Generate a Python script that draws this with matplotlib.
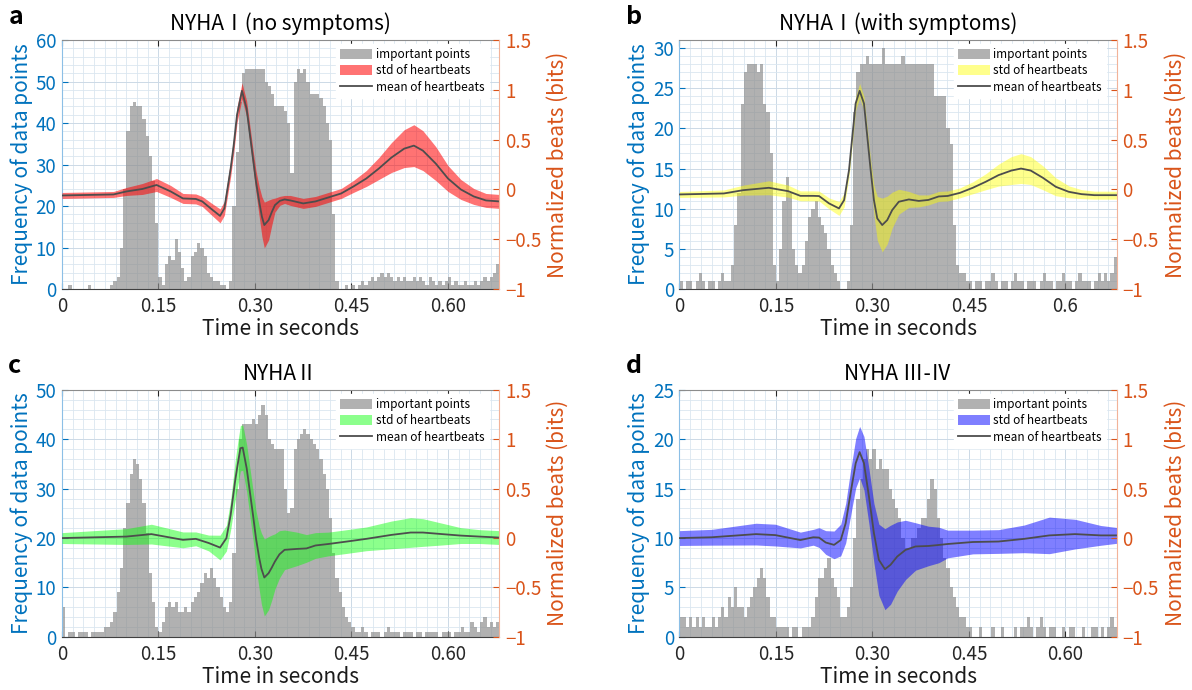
import numpy as np
import matplotlib
matplotlib.use('Agg')
import matplotlib.pyplot as plt
from matplotlib.patches import Patch
from matplotlib.lines import Line2D
from matplotlib.ticker import MultipleLocator

plt.rcParams['font.family'] = ['Noto Sans CJK JP', 'DejaVu Sans']
plt.rcParams['axes.unicode_minus'] = True

# ---------------- data ----------------
BIN = 0.005  # histogram bin width (s)

titles = ['NYHA\u2160(no symptoms)', 'NYHA\u2160(with symptoms)', 'NYHA\u2161', 'NYHA \u2162-\u2163']
letters = ['a', 'b', 'c', 'd']
x_ticks = [0, 0.15, 0.30, 0.45, 0.60]
x_labels_a = ['0', '0.15', '0.30', '0.45', '0.60']
x_labels_b = ['0', '0.15', '0.30', '0.45', '0.6']
left_max = [60, 31, 50, 25]
left_step = [10, 5, 10, 5]
left_minor = [2, 1, 2, 1]
right_ticks = [-1, -0.5, 0, 0.5, 1, 1.5]
right_labels = ['\u22121', '\u22120.5', '0', '0.5', '1', '1.5']

hist_a = [0, 0, 1, 0, 0, 0, 0, 0, 1, 0, 0, 0, 0, 0, 0, 1, 2,
          3, 10, 24, 38, 44, 45, 44, 44, 41, 37, 32, 26, 16, 3,
          1, 6, 8, 7, 12, 9, 5, 2, 3, 8, 9, 11, 10, 8, 4, 3, 2,
          2, 1, 1, 0, 2,
          20, 33, 45, 52, 53,
          53, 53, 53, 53, 53,
          50, 49, 47, 44, 44, 44, 43, 40, 28, 50, 53, 52, 53, 50, 47, 47, 47, 46, 44, 40, 36, 18, 2,
          0, 0, 1, 0, 1, 0, 1,
          2, 1, 2, 3, 2, 3, 4, 3, 4, 3, 2, 3, 2, 3, 2, 2, 3, 2, 3, 2, 1,
          3, 2, 1, 2, 1, 2, 3, 1, 2, 1, 1, 2, 1, 1, 2, 1, 2, 3, 2, 3, 4, 6]
hist_b = [1, 0, 1, 1, 0, 1, 2, 1, 0, 1, 1, 0, 1, 2, 1, 1,
          3, 8, 12, 23, 27, 28, 28, 28, 27, 28, 23, 22, 17, 3, 1,
          5, 11, 14, 12, 5, 3, 2, 3, 6, 9, 10, 11, 9, 8, 7, 5, 3, 2, 1, 0, 0, 1,
          8, 22, 27,
          28, 28, 29, 28, 28, 28, 28, 30, 28, 28, 28, 28, 28, 29, 28, 28, 28, 28, 28, 28, 28, 28,
          28, 24, 24, 24, 24, 20, 18, 8, 3, 2, 2, 1,
          1, 0, 1, 1, 0, 1, 1, 2, 1, 0, 1, 1, 0, 1, 2, 1, 1, 0, 1, 1, 1, 0, 1, 2,
          1, 1, 0, 1, 1, 2, 1, 1, 0, 1, 2, 1, 1, 1, 0, 1, 2, 1, 2, 1, 2, 4]
hist_c = [6, 0, 1, 1, 0, 1, 1, 1, 0, 1, 1, 1, 1, 2,
          2, 3, 5, 9, 14, 22, 27, 33, 36, 35, 32, 27, 21, 13, 7, 2, 1,
          3, 6, 7, 6, 7, 5, 5, 6, 5, 7, 8, 9, 11, 13, 12, 14, 12, 10, 8, 6, 5, 7,
          17, 30, 40, 43, 43, 43, 44, 43, 45, 47, 45, 40, 39, 38, 38, 38, 30, 25, 26,
          38, 40, 41, 42, 41, 40, 39, 38, 36, 33, 30, 24, 17, 12, 9, 6, 4, 3, 2,
          1, 1, 2, 1, 0, 1, 1, 1, 0, 1, 2, 1, 1, 1, 0, 1, 1, 1, 0, 1, 1, 0,
          1, 1, 1, 1, 0, 1, 1, 1, 0, 1, 1, 2, 1, 1, 3, 2, 1, 3, 4, 2, 3, 2, 3]
hist_d = [2, 2, 1, 2, 1, 2, 1, 2, 1, 1, 2, 1,
          2, 3, 2, 4, 3, 5, 3, 3, 2, 3, 4, 5, 6, 7, 6, 4, 2, 2, 1,
          1, 1, 1, 0, 1, 1, 0, 1, 1, 1, 2,
          4, 6, 6, 7, 8, 6, 5, 4, 2, 2, 3, 5,
          10, 14, 16, 18, 19, 18, 19, 17, 18, 17, 17, 15, 14, 13, 12, 10, 9, 9,
          10, 10, 11, 12, 12, 14, 16, 15, 12, 10, 8, 7, 5, 4, 3, 2, 2, 1,
          1, 0, 0, 1, 0, 0, 0, 1, 0, 0, 1, 0, 0, 0, 1, 0, 1, 1, 2, 1, 0, 1, 2,
          1, 0, 1, 1, 0, 0, 1, 0, 1, 1, 0, 0, 1, 0, 0, 1, 1, 0, 1, 0, 1, 2, 1, 3]

t_a = [0, 0.08, 0.10, 0.125, 0.147, 0.169, 0.188, 0.208, 0.218, 0.233,
       0.2457, 0.2524, 0.2622, 0.267, 0.2721, 0.2798, 0.287, 0.2969, 0.3015, 0.3066,
       0.3108, 0.3145, 0.3212, 0.3263, 0.331, 0.3387, 0.346, 0.355, 0.375, 0.394,
       0.414, 0.434, 0.453, 0.473, 0.4925, 0.512, 0.532, 0.547, 0.561, 0.581,
       0.600, 0.620, 0.640, 0.659, 0.68]
mean_a = [-0.06, -0.05, -0.02, 0.005, 0.045, -0.02, -0.09, -0.095, -0.12, -0.2,
          -0.265, -0.19, 0.21, 0.45, 0.75, 0.99, 0.81, 0.31, 0.08, -0.124,
          -0.274, -0.357, -0.307, -0.224, -0.157, -0.114, -0.10, -0.11, -0.14, -0.12,
          -0.08, -0.04, 0.03, 0.11, 0.21, 0.32, 0.41, 0.44, 0.39, 0.26,
          0.11, 0.0, -0.07, -0.11, -0.12]
std_a = [0.03, 0.03, 0.04, 0.055, 0.065, 0.06, 0.05, 0.05, 0.05, 0.06,
         0.07, 0.07, 0.08, 0.08, 0.08, 0.08, 0.08, 0.09, 0.11, 0.15,
         0.2, 0.23, 0.2, 0.13, 0.07, 0.045, 0.04, 0.05, 0.05, 0.05,
         0.05, 0.05, 0.06, 0.08, 0.11, 0.15, 0.19, 0.21, 0.2, 0.17,
         0.13, 0.1, 0.08, 0.07, 0.07]

t_b = [0, 0.069, 0.099, 0.139, 0.169, 0.188, 0.208, 0.217, 0.2326, 0.248,
       0.256, 0.2636, 0.2687, 0.2739, 0.2801, 0.2868, 0.292, 0.2972, 0.3023, 0.3075,
       0.3152, 0.323, 0.3307, 0.341, 0.3566, 0.372, 0.387, 0.403, 0.417, 0.436,
       0.456, 0.476, 0.496, 0.516, 0.531, 0.546, 0.565, 0.585, 0.605, 0.625,
       0.645, 0.68]
mean_b = [-0.05, -0.04, -0.007, 0.017, -0.017, -0.064, -0.064, -0.066, -0.14, -0.19,
          -0.106, 0.195, 0.53, 0.864, 0.99, 0.864, 0.53, 0.195, -0.106, -0.29,
          -0.357, -0.307, -0.207, -0.123, -0.1, -0.115, -0.105, -0.07, -0.065, -0.034,
          0.017, 0.077, 0.144, 0.19, 0.21, 0.19, 0.117, 0.027, -0.023, -0.047,
          -0.057, -0.057]
std_b = [0.03, 0.035, 0.05, 0.07, 0.06, 0.05, 0.05, 0.05, 0.055, 0.07,
         0.07, 0.07, 0.07, 0.07, 0.074, 0.07, 0.08, 0.1, 0.15, 0.22,
         0.27, 0.24, 0.18, 0.125, 0.08, 0.06, 0.05, 0.05, 0.05, 0.05,
         0.06, 0.08, 0.11, 0.14, 0.15, 0.14, 0.12, 0.09, 0.06, 0.045,
         0.04, 0.04]

t_c = [0, 0.100, 0.139, 0.188, 0.208, 0.228, 0.2457, 0.2556, 0.2622, 0.269,
       0.273, 0.2773, 0.2809, 0.2871, 0.2969, 0.3015, 0.3066, 0.310, 0.3145, 0.3212,
       0.326, 0.331, 0.338, 0.346, 0.365, 0.380, 0.394, 0.414, 0.443, 0.473,
       0.512, 0.542, 0.561, 0.591, 0.620, 0.649, 0.68]
mean_c = [0.0, 0.015, 0.04, -0.018, -0.008, -0.05, -0.096, -0.001, 0.235, 0.572,
          0.74, 0.909, 0.916, 0.706, 0.235, 0.0, -0.203, -0.31, -0.399, -0.355,
          -0.3, -0.237, -0.165, -0.119, -0.11, -0.105, -0.075, -0.06, -0.035, -0.008,
          0.032, 0.056, 0.056, 0.04, 0.025, 0.015, 0.005]
std_c = [0.055, 0.08, 0.1, 0.08, 0.07, 0.08, 0.125, 0.13, 0.15, 0.2,
         0.22, 0.23, 0.23, 0.24, 0.25, 0.28, 0.32, 0.36, 0.39, 0.37,
         0.33, 0.28, 0.24, 0.2, 0.17, 0.14, 0.13, 0.12, 0.12, 0.12,
         0.14, 0.15, 0.14, 0.11, 0.08, 0.07, 0.07]

t_d = [0, 0.05, 0.119, 0.149, 0.188, 0.208, 0.217, 0.2274, 0.2403, 0.2507,
       0.2584, 0.266, 0.274, 0.2801, 0.2868, 0.2946, 0.3023, 0.31, 0.3194, 0.3282,
       0.3385, 0.3514, 0.367, 0.387, 0.403, 0.417, 0.456, 0.496, 0.536, 0.575,
       0.615, 0.655, 0.68]
mean_d = [0.0, 0.008, 0.04, 0.03, -0.02, 0.008, 0.005, -0.045, -0.069, -0.02,
          0.15, 0.455, 0.758, 0.87, 0.758, 0.42, 0.05, -0.22, -0.315, -0.27,
          -0.187, -0.12, -0.085, -0.08, -0.07, -0.06, -0.04, -0.035, -0.008, 0.027,
          0.04, 0.027, 0.027]
std_d = [0.075, 0.08, 0.11, 0.11, 0.08, 0.08, 0.1, 0.12, 0.14, 0.16,
         0.2, 0.23, 0.25, 0.26, 0.27, 0.28, 0.3, 0.36, 0.41, 0.4,
         0.35, 0.3, 0.24, 0.2, 0.18, 0.14, 0.12, 0.12, 0.14, 0.185,
         0.15, 0.1, 0.08]

band_colors = [(1, 0, 0), (1, 1, 0), (0, 1, 0), (0, 0, 1)]
band_alpha = [0.55, 0.45, 0.45, 0.5]

# ---------------- style ----------------
BLUE = (0.0, 0.447, 0.741)
ORANGE = (0.85, 0.325, 0.098)
BAR_C = (0.55, 0.55, 0.55)
BAR_A = 0.68
LINE_C = (0.3, 0.3, 0.3)

positions = [[0.052, 0.581, 0.367, 0.361], [0.570, 0.581, 0.367, 0.361],
             [0.052, 0.077, 0.367, 0.358], [0.570, 0.077, 0.367, 0.358]]
letter_pos = [(0.007, 0.958), (0.525, 0.958), (0.007, 0.452), (0.525, 0.452)]

hists = [hist_a, hist_b, hist_c, hist_d]
ts = [t_a, t_b, t_c, t_d]
means = [mean_a, mean_b, mean_c, mean_d]
stds = [std_a, std_b, std_c, std_d]
xlabs = [x_labels_a, x_labels_b, x_labels_a, x_labels_a]

fig = plt.figure(figsize=(11.92, 6.9), dpi=100)

for k in range(4):
    ax = fig.add_axes(positions[k])
    h = np.array(hists[k], dtype=float)
    edges = np.arange(len(h)) * BIN
    ax.bar(edges, h, width=BIN, align='edge', color=BAR_C, alpha=BAR_A, linewidth=0, zorder=2)
    ax.set_xlim(0, 0.68)
    ax.set_ylim(0, left_max[k])
    ax.set_xticks(x_ticks)
    ax.set_xticklabels(xlabs[k])
    ax.set_yticks(np.arange(0, left_max[k] + 0.1, left_step[k]))
    ax.xaxis.set_minor_locator(MultipleLocator(0.15 / 9))
    ax.yaxis.set_minor_locator(MultipleLocator(left_minor[k]))
    ax.grid(which='major', color=(0.80, 0.85, 0.90), linewidth=0.7, zorder=0)
    ax.grid(which='minor', color=(0.86, 0.90, 0.94), linewidth=0.6, zorder=0)
    ax.set_axisbelow(True)
    ax.tick_params(which='minor', length=0)
    ax.tick_params(axis='x', which='major', direction='in', length=4, top=True,
                   labelsize=13.5, colors=(0.15, 0.15, 0.15), pad=5)
    ax.tick_params(axis='y', which='major', direction='in', length=4,
                   labelsize=13.5, colors=BLUE, pad=4)
    ax.spines['left'].set_color((0.55, 0.75, 0.9))
    ax.spines['top'].set_color((0.55, 0.55, 0.55))
    ax.spines['bottom'].set_color((0.25, 0.25, 0.25))
    ax.spines['right'].set_visible(False)
    ax.set_xlabel('Time in seconds', fontsize=15, color=(0.1, 0.1, 0.1), labelpad=1)
    ax.set_ylabel('Frequency of data points', fontsize=15, color=BLUE, labelpad=2)
    ax.set_title(titles[k], fontsize=15, pad=7)

    ax2 = ax.twinx()
    ax2.set_ylim(-1, 1.5)
    t = np.array(ts[k])
    m = np.array(means[k])
    s = np.array(stds[k])
    ax2.fill_between(t, m - s, m + s, color=band_colors[k], alpha=band_alpha[k], linewidth=0)
    ax2.plot(t, m, color=LINE_C, linewidth=1.3, solid_joinstyle='round')
    ax2.set_yticks(right_ticks)
    ax2.set_yticklabels(right_labels)
    ax2.tick_params(axis='y', direction='in', length=4, labelsize=13.5, colors=ORANGE, pad=4)
    ax2.set_ylabel('Normalized beats (bits)', fontsize=15, color=ORANGE, labelpad=4)
    for sp in ['left', 'top', 'bottom']:
        ax2.spines[sp].set_visible(False)
    ax2.spines['right'].set_color((0.95, 0.7, 0.6))
    ax2.set_xlim(0, 0.68)

    handles = [Patch(facecolor=BAR_C, alpha=BAR_A, linewidth=0),
               Patch(facecolor=band_colors[k], alpha=band_alpha[k], linewidth=0),
               Line2D([], [], color=LINE_C, linewidth=1.3)]
    ax2.legend(handles, ['important points', 'std of heartbeats', 'mean of heartbeats'],
               loc='upper right', bbox_to_anchor=(0.975, 0.985), fontsize=8.5,
               frameon=True, fancybox=False, edgecolor='white', framealpha=1,
               handlelength=2.7, handleheight=0.9, labelspacing=0.3,
               handletextpad=0.3, borderpad=0.35, borderaxespad=0)

    fig.text(letter_pos[k][0], letter_pos[k][1], letters[k], fontsize=18,
             fontweight='bold', va='bottom', ha='left')

fig.savefig('out.png', dpi=100)
